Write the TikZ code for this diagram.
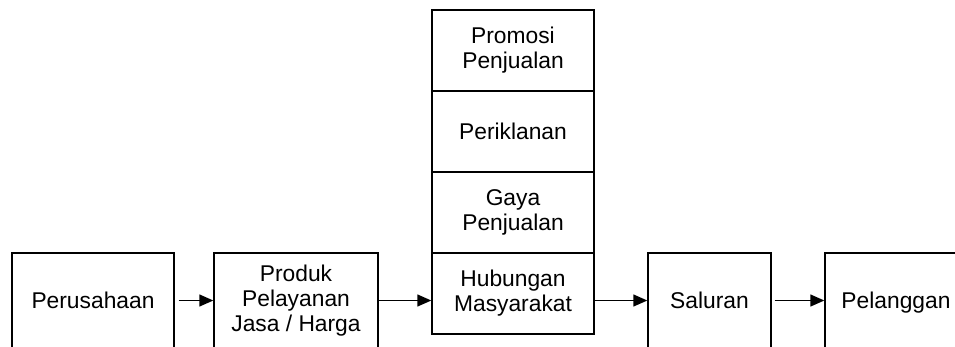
\documentclass[tikz,border=0pt]{standalone}
\usepackage{fontspec}
\setmainfont{Liberation Sans}
\usetikzlibrary{arrows.meta}

\begin{document}
\begin{tikzpicture}[x=1pt, y=1pt, line width=1.4pt,
    kotak/.style={draw, align=center, inner sep=0pt, font=\fontsize{22.8}{25}\selectfont},
    bawah/.style={kotak, minimum height=95pt},
    sel/.style={kotak, minimum width=162pt, minimum height=81pt},
    panah/.style={-{Triangle[length=14pt, width=12pt]}}]
    \useasboundingbox (0,0) rectangle (955,346);
    \clip (0,0) rectangle (955,346);

    \node[bawah, minimum width=162pt] (perusahaan) at (93,45.5) {Perusahaan};
    \node[bawah, minimum width=164pt] (produk) at (296,45.5) {Produk\\Pelayanan\\Jasa / Harga};
    \node[bawah, minimum width=123pt] (saluran) at (709.5,45.5) {Saluran};
    \node[bawah, minimum width=142pt, text depth=0pt] (pelanggan) at (896,45.5) {Pelanggan};

    \node[sel] (promosi) at (513,295.5) {Promosi\\Penjualan};
    \node[sel] (periklanan) at (513,214.5) {Periklanan};
    \node[sel] (gaya) at (513,133.5) {Gaya\\Penjualan};
    \node[sel] (hubungan) at (513,52.5) {Hubungan\\Masyarakat};

    \draw[panah, shorten <=4pt] (perusahaan.east) -- (produk.west);
    \draw[panah] (produk.east) -- (produk.east -| hubungan.west);
    \draw[panah] (saluran.west -| hubungan.east) -- (saluran.west);
    \draw[panah, shorten <=3pt] (saluran.east) -- (pelanggan.west);
  \end{tikzpicture}
\end{document}
